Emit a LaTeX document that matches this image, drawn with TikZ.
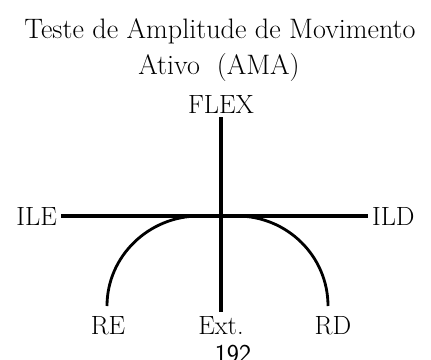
\documentclass[tikz,border=0pt]{standalone}
\usepackage{fontspec}
\usepackage{tikz}
\usetikzlibrary{positioning,calc}

\begin{document}
\begin{tikzpicture}[
    x=0.03cm, y=-0.03cm,
    titletext/.style={font=\fontsize{24}{28}\selectfont, text=black, anchor=base},
    axislabel/.style={font=\fontsize{22.5}{26}\selectfont, text=black},
    axisline/.style={line width=3.3pt, draw=black},
    arcline/.style={line width=2.4pt, draw=black}
]
    \useasboundingbox (0,0) rectangle (431,359);

    % Title
    \node[titletext] (title) at (220, 38) {Teste de Amplitude de Movimento};
    \node[titletext] (subtitle) at (219, 74) {Ativo\ \ (AMA)};

    % Axis labels
    \node[axislabel, anchor=base] (flex) at (221, 113) {FLEX};
    \node[axislabel, anchor=base east] (ile) at (61, 225) {ILE};
    \node[axislabel, anchor=base west] (ild) at (368, 225) {ILD};
    \node[axislabel, anchor=base] (re) at (108, 334) {RE};
    \node[axislabel, anchor=base] (ext) at (221, 334) {Ext.};
    \node[axislabel, anchor=base] (rd) at (333, 334) {RD};

    % Page number (cut off at the bottom)
    \node[font=\fontsize{22}{26}\selectfont\sffamily, anchor=base] (page) at (233, 362) {192};

    % Arc end points
    \coordinate (re_top) at (107, 306);
    \coordinate (rd_top) at (328, 306);
    \coordinate (tan_l) at (199,0 |- ile.east);
    \coordinate (tan_r) at (237,0 |- ild.west);

    % Rotation arcs
    \draw[arcline] (re_top) .. controls +(0,-50) and +(-50,0) .. (tan_l);
    \draw[arcline] (rd_top) .. controls +(0,-50) and +(50,0) .. (tan_r);

    % Axes
    \draw[axisline] (ile.east) -- (ild.west);
    \draw[axisline] (flex.south) -- (ext.north);

\end{tikzpicture}
\end{document}
